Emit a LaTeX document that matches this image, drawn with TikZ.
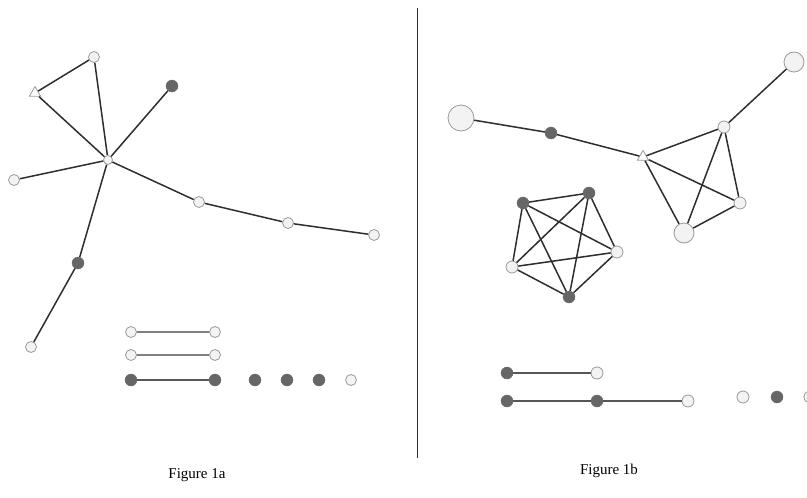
\documentclass[tikz,border=0pt]{standalone}
\usepackage{fontspec}
\setmainfont{Liberation Serif}
\usetikzlibrary{shapes.geometric}
\definecolor{lightfill}{HTML}{F3F3F3}
\definecolor{ringcol}{HTML}{9A9A9A}
\definecolor{darkfill}{HTML}{666666}
\definecolor{edgecol}{HTML}{2E2E2E}
\begin{document}
\begin{tikzpicture}[x=1pt,y=-1pt,
 lt/.style={circle,draw=ringcol,fill=lightfill,line width=0.8pt,inner sep=0pt,minimum size=11pt},
 dk/.style={circle,draw=darkfill,fill=darkfill,inner sep=0pt,minimum size=12pt},
 tri/.style={regular polygon,regular polygon sides=3,draw=ringcol,fill=white,line width=0.8pt,inner sep=0pt,minimum size=13pt},
 edge/.style={draw=edgecol,line width=1.5pt},
 ledge/.style={draw=gray,line width=1.6pt},
 dedge/.style={draw=darkfill!85!black,line width=1.7pt},
 caption/.style={font=\fontsize{15}{17}\selectfont}]
\useasboundingbox (0,0) rectangle (807,498);
% ---------- Figure 1a ----------
\node[lt,minimum size=9pt] (H) at (108,160) {};
\node[lt] (T) at (94,57) {};
\node[tri] (Tr) at (35,93) {};
\node[dk] (D1) at (172,86) {};
\node[lt] (L) at (14,180) {};
\node[lt] (C1) at (199,202) {};
\node[lt] (C2) at (288,223) {};
\node[lt] (C3) at (374,235) {};
\node[dk] (D2) at (78,263) {};
\node[lt] (E) at (31,347) {};
\draw[edge] (T) -- (Tr);
\draw[edge] (T) -- (H);
\draw[edge] (Tr) -- (H);
\draw[edge] (D1) -- (H);
\draw[edge] (L) -- (H);
\draw[edge] (H) -- (C1);
\draw[edge] (C1) -- (C2);
\draw[edge] (C2) -- (C3);
\draw[edge] (H) -- (D2);
\draw[edge] (D2) -- (E);
% legend 1a
\node[lt] (a1) at (131,332) {};
\node[lt] (a2) at (215,332) {};
\node[lt] (b1) at (131,355) {};
\node[lt] (b2) at (215,355) {};
\node[dk] (c1) at (131,380) {};
\node[dk] (c2) at (215,380) {};
\node[dk] (c3) at (255,380) {};
\node[dk] (c4) at (287,380) {};
\node[dk] (c5) at (319,380) {};
\node[lt] (c6) at (351,380) {};
\draw[ledge] (a1) -- (a2);
\draw[ledge] (b1) -- (b2);
\draw[dedge] (c1) -- (c2);
% divider
\coordinate (v1) at (417,8);
\coordinate (v2) at (417,458);
\draw[edgecol,line width=0.8pt] (v1) -- (v2);
% ---------- Figure 1b ----------
\node[lt,minimum size=26pt] (B1) at (461,118) {};
\node[dk] (D3) at (551,133) {};
\node[tri] (Tr2) at (643,157) {};
\node[lt,minimum size=12pt] (N1) at (724,127) {};
\node[lt,minimum size=20pt] (TR) at (794,62) {};
\node[lt,minimum size=12pt] (N2) at (740,203) {};
\node[lt,minimum size=20pt] (B2) at (684,233) {};
\draw[edge] (B1) -- (D3);
\draw[edge] (D3) -- (Tr2);
\draw[edge] (Tr2) -- (N1);
\draw[edge] (N1) -- (TR);
\draw[edge] (Tr2) -- (N2);
\draw[edge] (Tr2) -- (B2);
\draw[edge] (N1) -- (B2);
\draw[edge] (N1) -- (N2);
\draw[edge] (N2) -- (B2);
% pentagon
\node[dk] (P1) at (523,203) {};
\node[dk] (P2) at (589,193) {};
\node[lt,minimum size=12pt] (P3) at (617,252) {};
\node[dk] (P4) at (569,297) {};
\node[lt,minimum size=12pt] (P5) at (512,267) {};
\foreach \u/\v in {P1/P2,P1/P3,P1/P4,P1/P5,P2/P3,P2/P4,P2/P5,P3/P4,P3/P5,P4/P5}
  \draw[edge] (\u) -- (\v);
% legend 1b
\node[dk] (e1) at (507,373) {};
\node[lt,minimum size=12pt] (e2) at (597,373) {};
\node[dk] (f1) at (507,401) {};
\node[dk] (f2) at (597,401) {};
\node[lt,minimum size=12pt] (f3) at (688,401) {};
\node[lt,minimum size=12pt] (g1) at (743,397) {};
\node[dk] (g2) at (777,397) {};
\node[lt,minimum size=12pt] (g3) at (810,397) {};
\draw[dedge] (e1) -- (e2);
\draw[dedge] (f1) -- (f2);
\draw[dedge] (f2) -- (f3);
% captions
\node[caption] (cap1) at (197,475) {Figure 1a};
\node[caption] (cap2) at (609,471) {Figure 1b};
\end{tikzpicture}
\end{document}
